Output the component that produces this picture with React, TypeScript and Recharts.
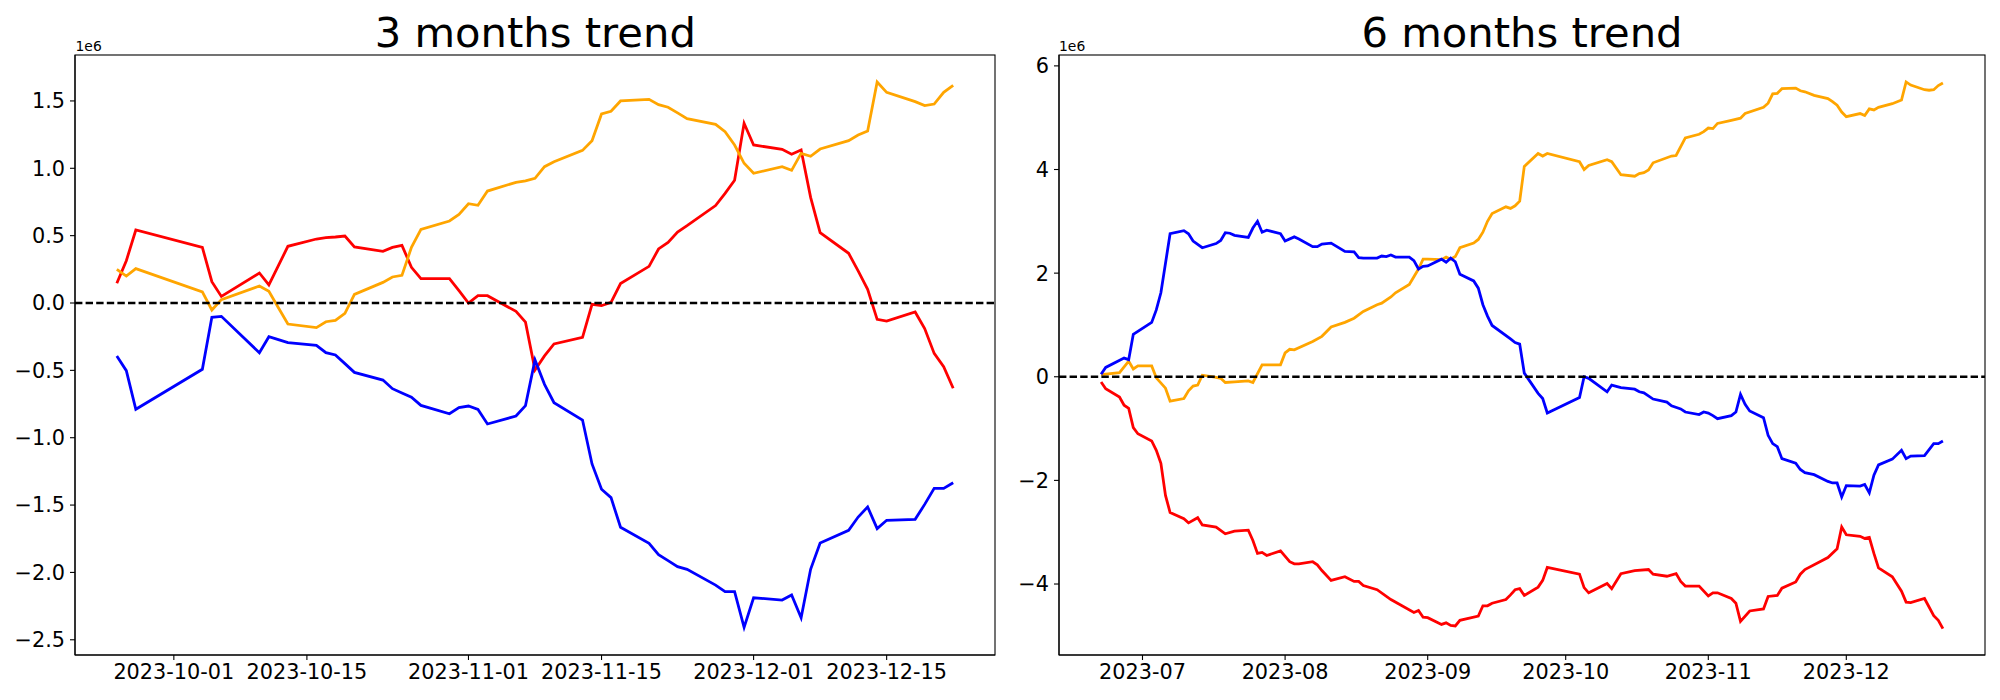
import React from 'react';
import { LineChart, Line, XAxis, YAxis, ReferenceLine } from 'recharts';

const FONT = '"DejaVu Sans", sans-serif';

// ---------- 3 months trend (values in 1e6) ----------
const dates3m = ['09-25','09-26','09-27','10-04','10-05','10-06','10-10','10-11','10-12','10-13','10-16','10-17','10-18','10-19','10-20','10-23','10-24','10-25','10-26','10-27','10-30','10-31','11-01','11-02','11-03','11-06','11-07','11-08','11-09','11-10','11-13','11-14','11-15','11-16','11-17','11-20','11-21','11-22','11-23','11-24','11-27','11-28','11-29','11-30','12-01','12-04','12-05','12-06','12-07','12-08','12-11','12-12','12-13','12-14','12-15','12-18','12-19','12-20','12-21','12-22'];
const blue3m = [-0.393,-0.502,-0.789,-0.492,-0.106,-0.099,-0.369,-0.250,-0.272,-0.294,-0.314,-0.369,-0.386,-0.450,-0.515,-0.572,-0.636,-0.668,-0.700,-0.760,-0.822,-0.777,-0.765,-0.790,-0.898,-0.839,-0.762,-0.423,-0.604,-0.740,-0.869,-1.195,-1.383,-1.445,-1.665,-1.784,-1.868,-1.913,-1.957,-1.977,-2.094,-2.143,-2.143,-2.408,-2.188,-2.205,-2.168,-2.336,-1.977,-1.782,-1.688,-1.589,-1.514,-1.675,-1.613,-1.606,-1.495,-1.376,-1.376,-1.334];
const orange3m = [0.250,0.200,0.255,0.082,-0.052,0.025,0.126,0.087,-0.035,-0.156,-0.183,-0.139,-0.129,-0.077,0.064,0.153,0.193,0.205,0.413,0.547,0.609,0.658,0.737,0.725,0.831,0.896,0.906,0.926,1.012,1.049,1.133,1.205,1.403,1.423,1.500,1.512,1.472,1.453,1.411,1.368,1.326,1.272,1.173,1.037,0.963,1.012,0.985,1.111,1.089,1.143,1.205,1.247,1.277,1.641,1.564,1.495,1.465,1.477,1.564,1.616];
const red3m = [0.146,0.314,0.542,0.413,0.158,0.049,0.223,0.134,0.277,0.421,0.475,0.485,0.490,0.497,0.416,0.384,0.413,0.428,0.265,0.181,0.181,0.092,0.000,0.054,0.054,-0.062,-0.142,-0.497,-0.393,-0.304,-0.255,-0.010,-0.020,0.005,0.144,0.272,0.401,0.450,0.527,0.574,0.723,0.814,0.911,1.334,1.173,1.141,1.104,1.136,0.784,0.522,0.369,0.238,0.101,-0.121,-0.134,-0.067,-0.190,-0.374,-0.473,-0.633];
const xTicks3m = ['10-01','10-15','11-01','11-15','12-01','12-15'];
const yTicks3m = [-2.5,-2,-1.5,-1,-0.5,0,0.5,1,1.5];

// ---------- 6 months trend (values in 1e6) ----------
const blue6mDates = ['06-22','06-23','06-27','06-28','06-29','07-03','07-04','07-05','07-07','07-10','07-11','07-12','07-14','07-17','07-18','07-19','07-20','07-21','07-24','07-25','07-26','07-27','07-28','07-31','08-01','08-03','08-04','08-07','08-08','08-09','08-11','08-14','08-16','08-17','08-18','08-21','08-22','08-23','08-24','08-25','08-28','08-29','08-30','08-31','09-01','09-04','09-05','09-06','09-07','09-08','09-11','09-12','09-13','09-14','09-15','09-19','09-20','09-21','09-22','09-25','09-26','09-27','10-04','10-05','10-06','10-10','10-11','10-13','10-16','10-17','10-18','10-20','10-23','10-24','10-26','10-27','10-30','10-31','11-01','11-02','11-03','11-06','11-07','11-08','11-09','11-10','11-13','11-14','11-15','11-16','11-17','11-20','11-21','11-22','11-24','11-27','11-28','11-29','11-30','12-01','12-04','12-05','12-06','12-07','12-08','12-11','12-13','12-14','12-15','12-18','12-20','12-21','12-22'];
const blue6mValues = [0.05,0.18,0.36,0.33,0.82,1.05,1.29,1.62,2.76,2.82,2.76,2.62,2.49,2.57,2.63,2.78,2.77,2.73,2.69,2.87,3.00,2.79,2.83,2.76,2.62,2.70,2.66,2.51,2.51,2.56,2.58,2.42,2.41,2.30,2.29,2.29,2.33,2.32,2.35,2.31,2.31,2.24,2.08,2.13,2.14,2.27,2.21,2.29,2.22,1.98,1.85,1.71,1.39,1.17,0.99,0.73,0.66,0.63,0.07,-0.32,-0.42,-0.70,-0.40,0.00,-0.03,-0.29,-0.16,-0.21,-0.24,-0.29,-0.31,-0.43,-0.49,-0.56,-0.62,-0.68,-0.73,-0.68,-0.70,-0.75,-0.81,-0.75,-0.68,-0.34,-0.53,-0.66,-0.79,-1.13,-1.29,-1.35,-1.58,-1.67,-1.79,-1.85,-1.89,-2.02,-2.05,-2.05,-2.32,-2.10,-2.11,-2.08,-2.24,-1.90,-1.70,-1.59,-1.42,-1.58,-1.53,-1.52,-1.29,-1.29,-1.24];

const orange6mDates = ['06-22','06-26','06-28','06-29','06-30','07-03','07-04','07-06','07-07','07-10','07-11','07-12','07-13','07-14','07-17','07-18','07-19','07-21','07-24','07-25','07-27','07-31','08-01','08-02','08-03','08-07','08-09','08-11','08-14','08-16','08-18','08-21','08-22','08-24','08-25','08-28','08-29','08-30','08-31','09-01','09-04','09-05','09-06','09-07','09-08','09-11','09-12','09-13','09-14','09-15','09-18','09-19','09-20','09-21','09-22','09-25','09-26','09-27','10-04','10-05','10-06','10-10','10-11','10-13','10-16','10-17','10-18','10-19','10-20','10-24','10-25','10-27','10-30','10-31','11-01','11-02','11-03','11-06','11-08','11-09','11-13','11-14','11-15','11-16','11-17','11-20','11-21','11-22','11-24','11-27','11-28','11-29','11-30','12-01','12-04','12-05','12-06','12-07','12-08','12-11','12-13','12-14','12-15','12-18','12-19','12-20','12-21','12-22'];
const orange6mValues = [0.04,0.08,0.30,0.15,0.21,0.21,-0.02,-0.22,-0.47,-0.42,-0.27,-0.18,-0.16,0.03,-0.01,-0.03,-0.11,-0.10,-0.08,-0.11,0.23,0.23,0.46,0.53,0.52,0.68,0.78,0.96,1.05,1.13,1.26,1.39,1.42,1.54,1.62,1.78,1.93,2.08,2.27,2.27,2.26,2.31,2.27,2.32,2.49,2.58,2.65,2.79,3.00,3.15,3.28,3.25,3.30,3.39,4.06,4.31,4.26,4.31,4.15,4.00,4.08,4.19,4.15,3.90,3.87,3.92,3.94,3.99,4.13,4.26,4.27,4.61,4.68,4.73,4.80,4.79,4.89,4.95,4.99,5.08,5.20,5.28,5.46,5.47,5.56,5.57,5.52,5.50,5.43,5.37,5.31,5.24,5.11,5.02,5.08,5.04,5.17,5.15,5.20,5.27,5.34,5.69,5.63,5.54,5.53,5.54,5.62,5.67];

const red6mDates = ['06-22','06-23','06-26','06-27','06-28','06-29','06-30','07-03','07-04','07-05','07-06','07-07','07-10','07-11','07-13','07-14','07-17','07-19','07-21','07-24','07-25','07-26','07-27','07-28','07-31','08-02','08-03','08-04','08-07','08-08','08-09','08-11','08-14','08-16','08-17','08-18','08-21','08-24','08-29','08-30','08-31','09-01','09-04','09-05','09-06','09-07','09-08','09-12','09-13','09-14','09-15','09-18','09-19','09-20','09-21','09-22','09-25','09-26','09-27','10-04','10-05','10-06','10-10','10-11','10-13','10-16','10-19','10-20','10-23','10-25','10-26','10-27','10-30','11-01','11-02','11-03','11-06','11-07','11-08','11-10','11-13','11-14','11-16','11-17','11-20','11-21','11-22','11-27','11-29','11-30','12-01','12-04','12-05','12-06','12-07','12-08','12-11','12-13','12-14','12-15','12-18','12-20','12-21','12-22'];
const red6mValues = [-0.10,-0.23,-0.39,-0.55,-0.61,-0.98,-1.10,-1.24,-1.42,-1.67,-2.29,-2.62,-2.74,-2.82,-2.72,-2.86,-2.90,-3.03,-2.98,-2.96,-3.16,-3.41,-3.39,-3.45,-3.36,-3.57,-3.61,-3.61,-3.57,-3.63,-3.74,-3.93,-3.86,-3.95,-3.95,-4.03,-4.11,-4.30,-4.55,-4.51,-4.64,-4.65,-4.78,-4.75,-4.80,-4.81,-4.70,-4.62,-4.42,-4.42,-4.37,-4.30,-4.21,-4.11,-4.09,-4.22,-4.06,-3.93,-3.68,-3.81,-4.07,-4.17,-3.99,-4.09,-3.80,-3.74,-3.72,-3.81,-3.85,-3.80,-3.95,-4.04,-4.04,-4.23,-4.17,-4.17,-4.28,-4.37,-4.72,-4.52,-4.48,-4.24,-4.22,-4.08,-3.96,-3.81,-3.72,-3.49,-3.32,-2.90,-3.05,-3.08,-3.12,-3.10,-3.41,-3.69,-3.86,-4.14,-4.35,-4.36,-4.28,-4.61,-4.70,-4.86];
const xTicks6m = ['07-01','08-01','09-01','10-01','11-01','12-01'];
const yTicks6m = [-4,-2,0,2,4,6];

// ---------- helpers ----------
const day = (md: string) => {
  const [m, d] = md.split('-').map(Number);
  return Date.UTC(2023, m - 1, d) / 86400000;
};
const fmtDate = (t: number, len: number) => new Date(Math.round(t) * 86400000).toISOString().slice(0, len);
const uminus = (s: string) => s.replace('-', '\u2212');

const table3m = dates3m.map((d, i) => ({ t: day(d), blue: blue3m[i], orange: orange3m[i], red: red3m[i] }));
const pts = (ds: string[], vs: number[]) => ds.map((d, i) => ({ t: day(d), v: vs[i] }));
const blue6m = pts(blue6mDates, blue6mValues);
const orange6m = pts(orange6mDates, orange6mValues);
const red6m = pts(red6mDates, red6mValues);

const pad = (a: number, b: number) => {
  const m = (b - a) * 0.05;
  return [a - m, b + m] as [number, number];
};
const xDom3m = pad(day(dates3m[0]), day(dates3m[dates3m.length - 1]));
const xDom6m = pad(day('06-22'), day('12-22'));
const yDom3m: [number, number] = [-2.613, 1.841];
const yDom6m: [number, number] = [-5.37, 6.21];

const COLORS = { blue: '#0000ff', orange: '#ffa500', red: '#ff0000' };
const LW = 2.78;
const tickStyle = { fill: '#000', fontSize: 20.8, fontFamily: FONT };
const axisLine = { stroke: '#000', strokeWidth: 1.1 };

type PanelProps = {
  left: number;
  yAxisWidth: number;
  marginRight: number;
  xDomain: [number, number];
  xTicks: number[];
  xFmt: (t: number) => string;
  yDomain: [number, number];
  yTicks: number[];
  yFmt: (v: number) => string;
  data?: any[];
  children: React.ReactNode;
};

function Panel(p: PanelProps) {
  return (
    <div style={{ position: 'absolute', left: p.left, top: 0 }}>
      <LineChart width={1000} height={700} data={p.data} margin={{ top: 55, right: p.marginRight, bottom: 0, left: 0 }}>
        <XAxis dataKey="t" type="number" domain={p.xDomain} ticks={p.xTicks} tickFormatter={p.xFmt} interval={0}
          allowDataOverflow height={45} tickSize={5} tickMargin={4} tick={tickStyle} axisLine={axisLine}
          tickLine={axisLine} />
        <YAxis type="number" domain={p.yDomain} ticks={p.yTicks} tickFormatter={p.yFmt} interval={0}
          allowDataOverflow width={p.yAxisWidth} tickSize={5} tickMargin={5} tick={tickStyle} axisLine={axisLine}
          tickLine={axisLine} />
        {p.children}
        <ReferenceLine y={0} stroke="#000" strokeWidth={2.5} strokeDasharray="7.4 3.2" />
      </LineChart>
    </div>
  );
}

export default function App() {
  return (
    <div style={{ position: 'absolute', left: 0, top: 0, width: 2000, height: 700, background: '#fff', fontFamily: FONT }}>
      <Panel left={0} yAxisWidth={75} marginRight={5} xDomain={xDom3m} xTicks={xTicks3m.map(day)}
        xFmt={(t) => fmtDate(t, 10)} yDomain={yDom3m} yTicks={yTicks3m} yFmt={(v) => uminus(v.toFixed(1))}
        data={table3m}>
        <Line type="linear" dataKey="red" stroke={COLORS.red} strokeWidth={LW} dot={false} isAnimationActive={false} />
        <Line type="linear" dataKey="orange" stroke={COLORS.orange} strokeWidth={LW} dot={false} isAnimationActive={false} />
        <Line type="linear" dataKey="blue" stroke={COLORS.blue} strokeWidth={LW} dot={false} isAnimationActive={false} />
      </Panel>
      <Panel left={1000} yAxisWidth={59} marginRight={15} xDomain={xDom6m} xTicks={xTicks6m.map(day)}
        xFmt={(t) => fmtDate(t, 7)} yDomain={yDom6m} yTicks={yTicks6m} yFmt={(v) => uminus(String(v))}>
        <Line type="linear" data={red6m} dataKey="v" stroke={COLORS.red} strokeWidth={LW} dot={false} isAnimationActive={false} />
        <Line type="linear" data={orange6m} dataKey="v" stroke={COLORS.orange} strokeWidth={LW} dot={false} isAnimationActive={false} />
        <Line type="linear" data={blue6m} dataKey="v" stroke={COLORS.blue} strokeWidth={LW} dot={false} isAnimationActive={false} />
      </Panel>
      <svg width={2000} height={700} style={{ position: 'absolute', left: 0, top: 0, pointerEvents: 'none' }}>
        <rect x={75} y={55} width={920} height={600} fill="none" stroke="#000" strokeWidth={1.1} />
        <rect x={1059} y={55} width={926} height={600} fill="none" stroke="#000" strokeWidth={1.1} />
        <text x={535.3} y={47} textAnchor="middle" fontSize={41.7} fontFamily={FONT} fill="#000">3 months trend</text>
        <text x={1522} y={47} textAnchor="middle" fontSize={41.7} fontFamily={FONT} fill="#000">6 months trend</text>
        <text x={75.5} y={51} fontSize={13.9} fontFamily={FONT} fill="#000">1e6</text>
        <text x={1059} y={51} fontSize={13.9} fontFamily={FONT} fill="#000">1e6</text>
      </svg>
    </div>
  );
}
